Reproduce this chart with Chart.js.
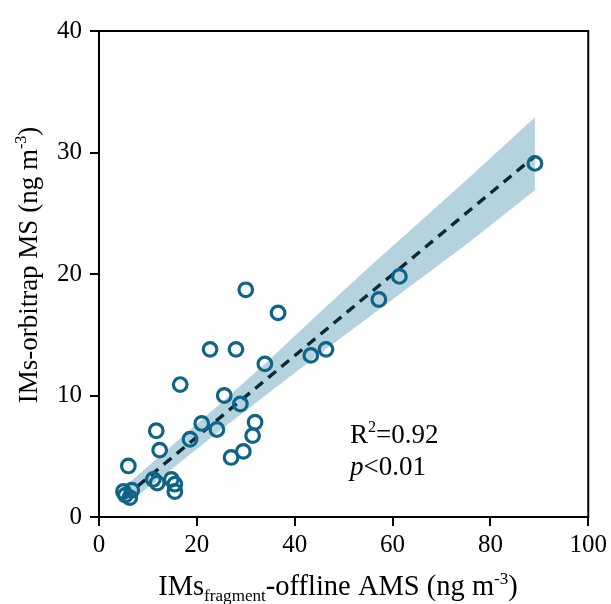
<!DOCTYPE html>
<html>
<head>
<meta charset="utf-8">
<script src="https://cdn.jsdelivr.net/npm/chart.js@4.4.1/dist/chart.umd.min.js"></script>
<style>
  html, body { margin: 0; padding: 0; background: #fff; }
  #wrap { width: 611px; height: 604px; }
</style>
</head>
<body>
<div id="wrap"><canvas id="myChart" width="611" height="604"></canvas></div>
<script>
// measured samples (ng m-3)
var amsVals = [89.1, 61.4, 57.2, 46.4, 43.3, 30.0, 36.6, 22.7, 28.0, 33.9, 16.6, 25.6, 28.9, 11.7, 21.0, 24.1, 31.9, 31.4, 18.6, 12.4, 27.0, 29.5, 6.0, 11.1, 11.9, 14.8, 15.5, 15.5, 5.0, 6.7, 6.3, 5.4];
var orbiVals = [29.1, 19.8, 17.9, 13.8, 13.3, 18.7, 16.8, 13.8, 13.8, 12.6, 10.9, 10.0, 9.3, 7.1, 7.7, 7.2, 7.8, 6.7, 6.4, 5.5, 4.9, 5.4, 4.2, 3.1, 2.8, 3.1, 2.7, 2.1, 2.1, 2.2, 1.6, 1.8];

// regression line + confidence band
var fitX = [5.2, 89.1];
var fitY = [1.64, 29.7];
var bandX = [5.2, 15, 25, 35, 45, 55, 65, 75, 89.1];
var bandUpper = [2.5, 5.9, 9.4, 13.0, 16.8, 20.5, 24.1, 27.7, 32.9];
var bandLower = [0.9, 4.0, 7.2, 10.3, 13.4, 16.4, 19.4, 22.4, 26.9];

var xTicks = [0, 20, 40, 60, 80, 100];
var yTicks = [0, 10, 20, 30, 40];

var serif = "'Liberation Serif', 'Times New Roman', serif";

function pairs(xs, ys) {
    var out = [];
    for (var i = 0; i < xs.length; i++) out.push({x: xs[i], y: ys[i]});
    return out;
}

// pieces: [text, mode]  0 normal, 1 sup, -1 sub, 2 italic
function richWidth(ctx, parts, size) {
    var w = 0;
    parts.forEach(function(p) {
        var s = p[1] === 1 || p[1] === -1 ? size * 0.6 : size;
        ctx.font = (p[1] === 2 ? 'italic ' : '') + s + 'px ' + serif;
        w += ctx.measureText(p[0]).width;
    });
    return w;
}
function drawRich(ctx, parts, size, x, y) {
    var cx = x;
    parts.forEach(function(p) {
        var s = size, dy = 0;
        if (p[1] === 1) { s = size * 0.6; dy = -size * 0.4; }
        if (p[1] === -1) { s = size * 0.6; dy = size * 0.22; }
        ctx.font = (p[1] === 2 ? 'italic ' : '') + s + 'px ' + serif;
        ctx.fillText(p[0], cx, y + dy);
        cx += ctx.measureText(p[0]).width;
    });
}

var decor = {
    id: 'decor',
    afterDraw: function(chart) {
        var ctx = chart.ctx, a = chart.chartArea;
        ctx.save();
        ctx.strokeStyle = '#000';
        ctx.lineWidth = 2;
        ctx.strokeRect(a.left, a.top, a.right - a.left, a.bottom - a.top);
        ctx.fillStyle = '#000';
        ctx.textBaseline = 'alphabetic';
        ctx.textAlign = 'left';

        // x title
        var xt = [['IMs', 0], ['fragment', -1], ['-offline AMS (ng m', 0], ['-3', 1], [')', 0]];
        var w = richWidth(ctx, xt, 28.5);
        drawRich(ctx, xt, 28.5, 338 - w / 2, 595);

        // y title
        var yt = [['IMs-orbitrap MS (ng m', 0], ['-3', 1], [')', 0]];
        var wy = richWidth(ctx, yt, 27);
        ctx.save();
        ctx.translate(37, 265);
        ctx.rotate(-Math.PI / 2);
        drawRich(ctx, yt, 27, -wy / 2, 0);
        ctx.restore();

        // stats
        drawRich(ctx, [['R', 0], ['2', 1], ['=0.92', 0]], 27, 350, 443);
        drawRich(ctx, [['p', 2], ['<0.01', 0]], 27, 350, 475);
        ctx.restore();
    }
};

var ctx = document.getElementById('myChart').getContext('2d');
var myChart = new Chart(ctx, {
    type: 'scatter',
    data: {
        datasets: [{
            label: 'upper',
            data: pairs(bandX, bandUpper),
            showLine: true,
            pointRadius: 0,
            borderWidth: 0,
            borderColor: 'rgba(0,0,0,0)',
            backgroundColor: 'rgb(181,211,222)',
            fill: '+1',
            order: 3
        }, {
            label: 'lower',
            data: pairs(bandX, bandLower),
            showLine: true,
            pointRadius: 0,
            borderWidth: 0,
            borderColor: 'rgba(0,0,0,0)',
            fill: false,
            order: 3
        }, {
            label: 'fit',
            data: pairs(fitX, fitY),
            showLine: true,
            pointRadius: 0,
            borderColor: '#0b2a38',
            borderWidth: 3.4,
            borderDash: [10, 7],
            fill: false,
            order: 2
        }, {
            label: 'samples',
            data: pairs(amsVals, orbiVals),
            pointRadius: 6.8,
            pointBorderWidth: 3.2,
            pointBorderColor: '#0f6488',
            pointBackgroundColor: 'rgba(0,0,0,0)',
            order: 1
        }]
    },
    options: {
        responsive: false,
        animation: false,
        layout: { padding: { left: 0, right: 21, top: 31, bottom: 0 } },
        plugins: { legend: { display: false }, tooltip: { enabled: false } },
        scales: {
            x: {
                type: 'linear', min: 0, max: 100,
                afterBuildTicks: function(s) { s.ticks = xTicks.map(function(v) { return {value: v}; }); },
                afterFit: function(s) { s.height = 87; },
                grid: { drawOnChartArea: false, drawTicks: true, tickLength: 9, color: '#000', lineWidth: 2 },
                border: { display: true, color: '#000', width: 2 },
                ticks: { color: '#000', font: { family: serif, size: 25 }, padding: 4, maxRotation: 0 }
            },
            y: {
                type: 'linear', min: 0, max: 40,
                afterBuildTicks: function(s) { s.ticks = yTicks.map(function(v) { return {value: v}; }); },
                afterFit: function(s) { s.width = 99; },
                grid: { drawOnChartArea: false, drawTicks: true, tickLength: 9, color: '#000', lineWidth: 2 },
                border: { display: true, color: '#000', width: 2 },
                ticks: { color: '#000', font: { family: serif, size: 25 }, padding: 8 }
            }
        }
    },
    plugins: [decor]
});
</script>
</body>
</html>
